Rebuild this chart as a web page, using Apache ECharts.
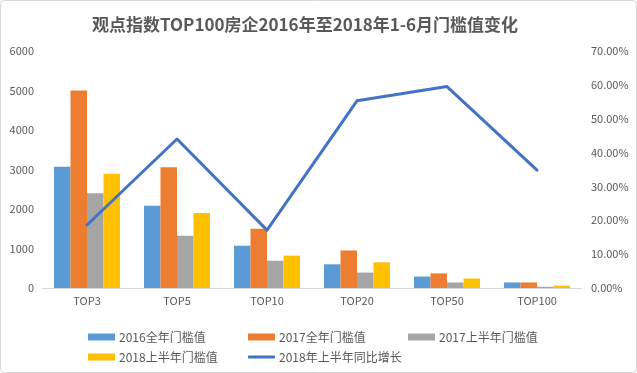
<!DOCTYPE html>
<html>
<head>
<meta charset="utf-8">
<script src="https://cdn.jsdelivr.net/npm/echarts@6/dist/echarts.min.js"></script>
<style>
html,body{margin:0;padding:0;background:#fff;}
#chart{width:637px;height:373px;}
</style>
</head>
<body>
<div id="chart"></div>
<script>
var categories = ['TOP3', 'TOP5', 'TOP10', 'TOP20', 'TOP50', 'TOP100'];
var full2016 = [3070, 2080, 1070, 600, 290, 140];
var full2017 = [5000, 3060, 1500, 950, 370, 140];
var half2017 = [2400, 1320, 690, 390, 140, 30];
var half2018 = [2890, 1900, 820, 650, 240, 60];
var growth2018 = [18.6, 44.0, 17.1, 55.3, 59.5, 34.8];
var leftTicks = [0, 6000, 1000];
var rightTicks = [0, 70, 10];

var names = ['2016全年门槛值', '2017全年门槛值', '2017上半年门槛值', '2018上半年门槛值', '2018年上半年同比增长'];
var colors = ['#5B9BD5', '#ED7D31', '#A5A5A5', '#FFC000', '#4472C4'];
var FONT = '"Noto Sans CJK SC", "Noto Sans", sans-serif';
var textCol = '#595959';

function legendAt(name, left, top, isLine) {
  return {
    data: [name],
    left: left, top: top,
    itemWidth: 27, itemHeight: isLine ? 3 : 7,
    icon: isLine ? 'roundRect' : 'rect',
    itemGap: 4,
    textStyle: { color: textCol, fontSize: 12, fontFamily: FONT, padding: [0, 0, 0, -1] },
    selectedMode: false
  };
}

var chart = echarts.init(document.getElementById('chart'), null, { renderer: 'canvas' });
var barBase = { type: 'bar', barGap: '0%', barCategoryGap: '26.7%', yAxisIndex: 0 };
chart.setOption({
  animation: false,
  color: colors,
  textStyle: { fontFamily: FONT },
  title: {
    text: '观点指数TOP100房企2016年至2018年1-6月门槛值变化',
    left: 300, top: 11, textAlign: 'center',
    textStyle: { fontSize: 17, fontWeight: 'bold', color: textCol, fontFamily: FONT }
  },
  graphic: [{
    type: 'rect', shape: { x: 0.5, y: 0.5, width: 636, height: 372, r: 4 },
    style: { fill: 'none', stroke: '#d9d9d9', lineWidth: 1 }, silent: true, z: -1
  }],
  legend: [
    legendAt(names[0], 83, 326, false),
    legendAt(names[1], 243, 326, false),
    legendAt(names[2], 403, 326, false),
    legendAt(names[3], 83, 346, false),
    legendAt(names[4], 243, 346, true)
  ],
  grid: { left: 42, right: 55, top: 51, bottom: 85, containLabel: false },
  xAxis: {
    type: 'category', data: categories,
    axisLine: { lineStyle: { color: '#d9d9d9', width: 1 } },
    axisTick: { show: false },
    axisLabel: { color: textCol, fontSize: 11, fontFamily: FONT, margin: 7 }
  },
  yAxis: [{
    type: 'value', min: leftTicks[0], max: leftTicks[1], interval: leftTicks[2],
    axisLine: { show: false }, axisTick: { show: false }, splitLine: { show: false },
    axisLabel: { color: textCol, fontSize: 11, fontFamily: FONT, margin: 8,
      formatter: function (v) { return String(v); } }
  }, {
    type: 'value', min: rightTicks[0], max: rightTicks[1], interval: rightTicks[2],
    position: 'right',
    axisLine: { show: false }, axisTick: { show: false }, splitLine: { show: false },
    axisLabel: { color: textCol, fontSize: 11, fontFamily: FONT, margin: 9,
      formatter: function (v) { return v.toFixed(2) + '%'; } }
  }],
  series: [
    Object.assign({ name: names[0], data: full2016 }, barBase),
    Object.assign({ name: names[1], data: full2017 }, barBase),
    Object.assign({ name: names[2], data: half2017 }, barBase),
    Object.assign({ name: names[3], data: half2018 }, barBase),
    {
      name: names[4], type: 'line', yAxisIndex: 1, data: growth2018,
      showSymbol: false, symbol: 'none',
      lineStyle: { color: colors[4], width: 3, cap: 'round', join: 'round' },
      itemStyle: { color: colors[4] }
    }
  ]
});
</script>
</body>
</html>
